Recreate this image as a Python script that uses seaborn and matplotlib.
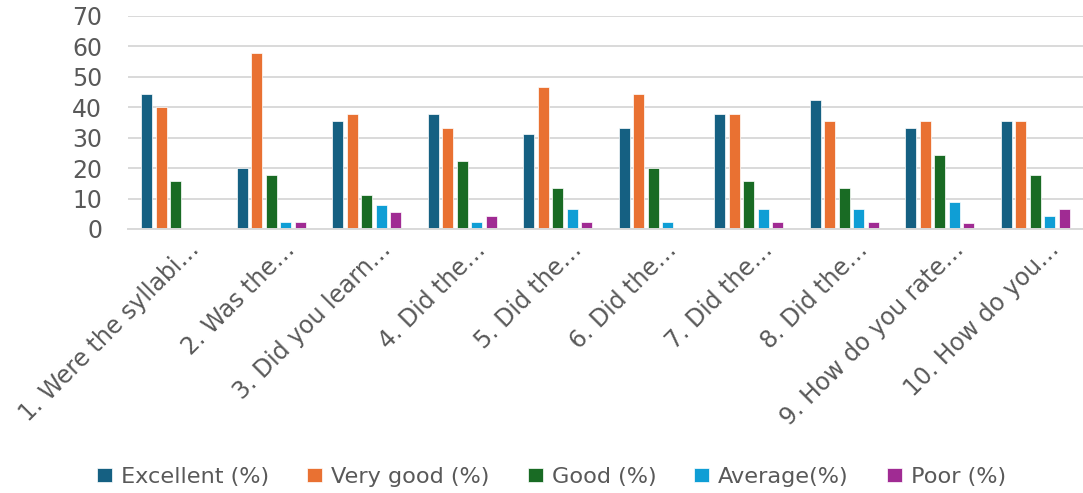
import matplotlib
matplotlib.use("Agg")
import matplotlib.pyplot as plt
import matplotlib.transforms as mtransforms
import seaborn as sns
import pandas as pd

questions = [
    "1. Were the syllabi…",
    "2. Was the…",
    "3. Did you learn…",
    "4. Did the…",
    "5. Did the…",
    "6. Did the…",
    "7. Did the…",
    "8. Did the…",
    "9. How do you rate…",
    "10. How do you…",
]
series_names = ["Excellent (%)", "Very good (%)", "Good (%)", "Average(%)", "Poor (%)"]
excellent = [44.4, 20.0, 35.6, 37.8, 31.1, 33.3, 37.8, 42.2, 33.3, 35.6]
very_good = [40.0, 57.8, 37.8, 33.3, 46.7, 44.4, 37.8, 35.6, 35.6, 35.6]
good      = [15.6, 17.8, 11.1, 22.2, 13.3, 20.0, 15.6, 13.3, 24.4, 17.8]
average   = [0.0, 2.2, 7.8, 2.2, 6.7, 2.2, 6.7, 6.7, 8.9, 4.4]
poor      = [0.0, 2.2, 5.6, 4.4, 2.2, 0.0, 2.2, 2.2, 1.9, 6.7]
colors = ["#156082", "#E97132", "#196B24", "#0F9ED5", "#A02B93"]

rows = []
for name, vals in zip(series_names, [excellent, very_good, good, average, poor]):
    for q, v in zip(questions, vals):
        rows.append({"question": q, "rating": name, "value": v})
df = pd.DataFrame(rows)

sns.set_theme(style="white")
plt.rcParams["font.family"] = ["DejaVu Sans"]
text_color = "#595959"

W, H = 1083, 493
fig = plt.figure(figsize=(W / 100, H / 100), dpi=100)
ax = fig.add_axes([128 / W, (H - 229) / H, (1083 - 128) / W, (229 - 15.7) / H])

sns.barplot(data=df, x="question", y="value", hue="rating", order=questions,
            hue_order=series_names, palette=colors, saturation=1, width=0.76,
            gap=0.22, edgecolor="white", linewidth=0.5, ax=ax, legend=True)

ax.set_ylim(0, 70)
ax.set_xlim(-0.5, 9.5)
ax.set_yticks(range(0, 71, 10))
ax.yaxis.grid(True, color="#d9d9d9", linewidth=1.4)
ax.set_axisbelow(True)
for s in ["top", "right", "left"]:
    ax.spines[s].set_visible(False)
ax.spines["bottom"].set_color("#d9d9d9")
ax.spines["bottom"].set_linewidth(1.4)
ax.set_xlabel("")
ax.set_ylabel("")
ax.tick_params(axis="y", length=0, pad=18.5, labelsize=17, labelcolor=text_color)
ax.tick_params(axis="x", length=0, pad=0, labelsize=17, labelcolor=text_color)
offset = mtransforms.ScaledTranslation(18 / 72, -15.8 / 72, fig.dpi_scale_trans)
for lab in ax.get_xticklabels():
    lab.set_rotation(45)
    lab.set_ha("right")
    lab.set_va("baseline")
    lab.set_rotation_mode("anchor")
    lab.set_transform(lab.get_transform() + offset)

handles, labels = ax.get_legend_handles_labels()
ax.get_legend().remove()
fig.legend(handles, labels, loc="center", bbox_to_anchor=(551.5 / W, 16 / H), ncol=5,
           frameon=False, fontsize=16.1, labelcolor=text_color, handlelength=0.67,
           handleheight=0.58, handletextpad=0.4, columnspacing=1.7,
           borderpad=0, borderaxespad=0)

fig.savefig("out.png", dpi=100)
